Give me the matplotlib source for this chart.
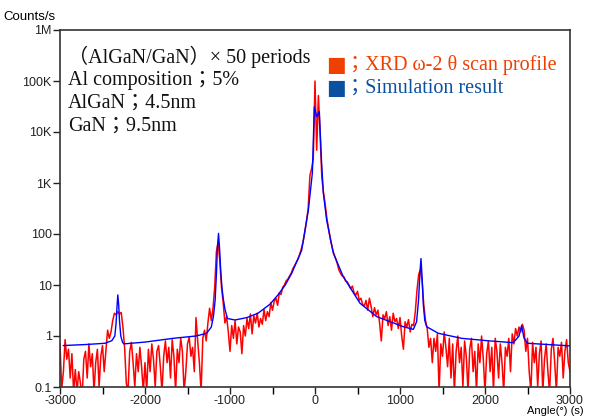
import numpy as np
import matplotlib
matplotlib.use("Agg")
import matplotlib.pyplot as plt
from matplotlib.ticker import FixedLocator, MultipleLocator

# measured XRD scan, 20 s steps from -3000 to 3000
scan_angle = np.arange(-3000, 3001, 20)
scan_counts = [
    0.7, 0.09, 0.2, 0.85, 0.35, 0.55, 0.15, 0.45, 0.08, 0.22,
    0.08, 0.2, 0.12, 0.06, 0.35, 0.5, 0.15, 0.7, 0.25, 0.45,
    0.08, 0.3, 0.55, 0.1, 0.4, 0.65, 0.2, 0.5, 1.3, 0.9,
    1.2, 2.0, 2.8, 2.6, 3.0, 2.7, 2.9, 1.5, 0.6, 0.12,
    0.08, 0.5, 0.75, 0.3, 0.1, 0.45, 0.2, 0.6, 0.25, 0.08,
    0.3, 0.08, 0.55, 0.2, 0.7, 0.35, 0.1, 0.5, 0.65, 0.25,
    0.08, 0.4, 0.8, 0.3, 0.6, 0.15, 0.85, 0.4, 0.08, 0.55,
    0.3, 0.9, 0.5, 0.08, 0.2, 0.7, 0.95, 0.4, 0.6, 0.2,
    2.3, 0.8, 0.3, 0.08, 0.9, 1.3, 0.8, 1.8, 3.5, 2.0,
    3.5, 9, 45, 68, 30, 9, 4.5, 1.8, 2.4, 1.2,
    0.5, 1.6, 0.9, 2.0, 0.7, 1.5, 1.2, 0.45, 1.6, 1.0,
    2.2, 1.4, 2.7, 1.1, 2.5, 1.8, 2.8, 1.5, 2.2, 1.7,
    3.3, 2.0, 3.0, 2.4, 4.5, 3.2, 4.8, 5.5, 4.0, 7.0,
    6.5, 9, 10, 12, 13, 15, 17, 21, 24, 28,
    32, 40, 52, 70, 110, 180, 320, 1400, 1900, 3000,
    100000, 4400, 52000, 9000, 1300, 650, 380, 200, 125, 80,
    56, 42, 34, 27, 20, 17, 15, 14.5, 12, 11.5,
    10, 8.5, 9.5, 7, 6.3, 7.5, 5, 5.5, 4.2, 3.8,
    5.0, 3.2, 5.5, 3.8, 2.4, 3.6, 2.6, 3.2, 1.8, 0.8,
    2.6, 2.2, 3.0, 1.6, 2.4, 1.3, 2.8, 1.9, 2.2, 1.4,
    2.3, 1.0, 0.55, 1.9, 1.5, 2.1, 1.2, 1.7, 1.6, 3.0,
    8, 16, 20, 12, 4, 2.0, 1.4, 0.6, 0.9, 0.3,
    0.9, 0.5, 1.1, 0.08, 0.7, 0.4, 1.2, 0.6, 0.25, 0.9,
    0.15, 0.7, 0.08, 0.5, 1.0, 0.3, 0.6, 0.1, 0.8, 0.4,
    0.08, 0.55, 0.9, 0.2, 0.5, 0.08, 0.7, 0.3, 1.0, 0.35,
    0.08, 0.45, 0.8, 0.2, 0.6, 0.08, 0.9, 0.5, 0.15, 0.7,
    0.3, 0.08, 0.6, 0.4, 0.9, 0.2, 1.1, 0.7, 1.4, 1.0,
    1.5, 1.2, 1.7, 1.3, 0.5, 0.9, 0.2, 0.08, 0.75, 0.3,
    0.6, 0.1, 0.45, 0.8, 0.08, 0.35, 0.7, 0.2, 0.08, 0.55,
    0.9, 0.3, 0.08, 0.6, 0.4, 0.75, 0.15, 0.5, 0.85, 0.3,
    0.2,
]
assert len(scan_counts) == len(scan_angle)

# simulated profile
sim_angle = [-2960, -2700, -2470, -2390, -2355, -2340, -2330, -2320, -2310,
             -2300, -2285, -2265, -2250,
             -2000, -1670, -1400, -1275, -1220, -1195, -1175, -1160, -1148,
             -1135, -1122, -1110, -1095, -1080, -1060,
             -1030, -940, -800, -670, -530, -435, -350, -274, -157, -78,
             -31, -8, 20, 51, 75, 98, 137, 216, 333, 529, 726, 1039, 1157,
             1195, 1218, 1235, 1247, 1260, 1275, 1292, 1314, 1451, 1725,
             2059, 2333, 2400, 2430, 2460, 2500, 3000]
sim_counts = [0.65, 0.68, 0.72, 0.81, 1.0, 1.8, 3.6, 6.4, 4.2,
              2.0, 1.0, 0.76, 0.70,
              0.76, 0.90, 1.0, 1.13, 1.5, 2.4, 5, 16, 55,
              103, 50, 20, 9, 5.5, 3.4,
              2.2, 2.06, 2.3, 2.8, 4.2, 6.4, 10, 17, 48, 295,
              1580, 31000, 20000, 25000, 3000, 640, 188, 42, 14.5, 4.4, 2.4, 1.52, 1.35,
              1.9, 5, 18, 33, 14, 4, 2.0, 1.52, 1.13, 0.90,
              0.80, 0.74, 1.0, 1.6, 0.9, 0.72, 0.64]

y_ticks = [0.1, 1, 10, 100, 1e3, 1e4, 1e5, 1e6]
y_labels = ["0.1", "1", "10", "100", "1K", "10K", "100K", "1M"]
x_ticks = [-3000, -2000, -1000, 0, 1000, 2000, 3000]

sample_lines = ["（AlGaN/GaN）× 50 periods", "Al composition；5%",
                "AlGaN；4.5nm", "GaN；9.5nm"]

plt.rcParams['font.family'] = ['Liberation Sans', 'DejaVu Sans']
serif = ['Liberation Serif', 'Noto Sans CJK JP', 'DejaVu Serif']

fig = plt.figure(figsize=(5.89, 4.17), dpi=100)
ax = fig.add_axes([60 / 589, 1 - 387 / 417, 510 / 589, 357 / 417])

ax.plot(scan_angle, scan_counts, color='#ff0000', lw=1.1)
ax.plot(sim_angle, sim_counts, color='#0000ff', lw=1.0)

ax.set_yscale('log')
ax.set_xlim(-3000, 3000)
ax.set_ylim(0.1, 1e6)
ax.yaxis.set_major_locator(FixedLocator(y_ticks))
ax.set_yticklabels(y_labels)
ax.yaxis.set_minor_locator(FixedLocator([]))
ax.set_xticks(x_ticks)
ax.set_xticklabels([str(t) for t in x_ticks])
ax.xaxis.set_minor_locator(MultipleLocator(500))
ax.tick_params(axis='both', direction='out', length=5, width=1, labelsize=9,
               colors='#222222')
ax.tick_params(axis='y', pad=1)
ax.tick_params(axis='x', pad=0.5)
ax.tick_params(axis='x', which='minor', direction='out', length=5, width=1)
for s in ax.spines.values():
    s.set_linewidth(1.2)
    s.set_color('#333333')

fig.text(3 / 589, 1 - 17 / 417, "Counts/s", fontsize=9.5, va='center', ha='left')
fig.text(584 / 589, 1 / 417, "Angle(°) (s)", fontsize=8, va='bottom', ha='right')

for i, line in enumerate(sample_lines):
    fig.text(68 / 589, 1 - (57 + 23 * i) / 417, line, family=serif, fontsize=14.5,
             va='center', ha='left', color='#111111')

legend_items = [("#f04000", "；XRD ω-2 θ scan profile"),
                ("#0a50a0", "；Simulation result")]
for i, (c, lab) in enumerate(legend_items):
    yy = 1 - (65 + 23 * i) / 417
    fig.text(336 / 589, yy, "■", color=c, fontsize=15, va='center', ha='center',
             family=['DejaVu Sans'])
    fig.text(345 / 589, yy, lab, color=c, family=serif, fontsize=14.5,
             va='center', ha='left')

fig.savefig("out.png", dpi=100)
